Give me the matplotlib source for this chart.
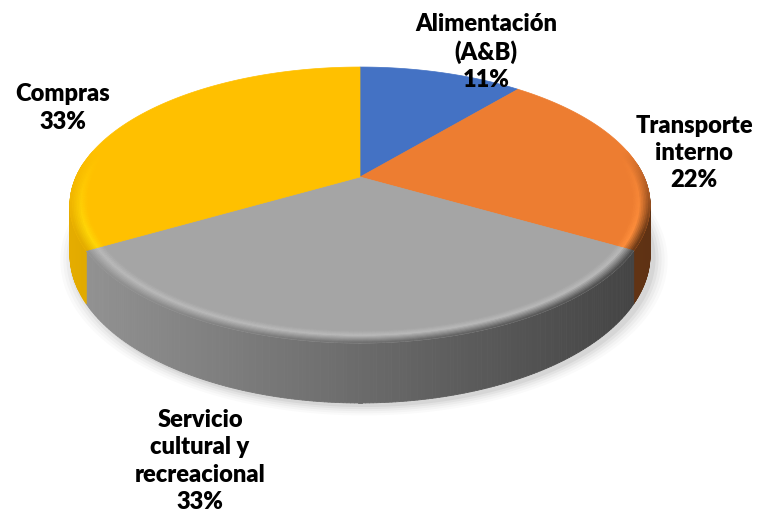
import numpy as np
import matplotlib
matplotlib.use("Agg")
import matplotlib.pyplot as plt
from matplotlib.collections import PolyCollection
from matplotlib.patches import Polygon
from matplotlib.colors import to_rgb

# ---- data ----
categories = ["Alimentación\n(A&B)", "Transporte\ninterno",
              "Servicio\ncultural y\nrecreacional", "Compras"]
values = [1, 2, 3, 3]
colors = ["#4472C4", "#ED7D31", "#A5A5A5", "#FFC000"]

# label anchor positions (pixels)
label_pos = [(486, 52), (694, 153), (200, 461), (63, 108)]

W, H = 757, 519
fig = plt.figure(figsize=(W / 100, H / 100), dpi=100)
ax = fig.add_axes([0, 0, 1, 1])
ax.set_xlim(0, W)
ax.set_ylim(H, 0)
ax.axis("off")

# projection parameters (perspective 3-D pie)
cx, cy = 360, 177
A, B, k, D = 284, 132.3, 0.203, 47.8


def proj(theta, r=1.0, z=0.0):
    u = r * np.sin(theta)
    v = r * np.cos(theta)
    w = 1 + k * v
    return cx + A * u / w, cy - B * v / w + D * z / (1 + k * np.cos(theta))


vals = np.array(values, dtype=float)
fr = vals / vals.sum()
edges = np.concatenate([[0], np.cumsum(fr)]) * 2 * np.pi

xl, xr = 67, 648


def light(x):
    t = np.clip((x - xl) / (xr - xl), 0, 1)
    return 0.90 - 0.50 * t


# ---- soft shadow ----
th = np.linspace(0, 2 * np.pi, 400)
for s, a in [(1.045, 0.02), (1.035, 0.025), (1.025, 0.03), (1.015, 0.04), (1.005, 0.05)]:
    xs, ys = proj(th, r=s, z=1.0)
    ax.add_patch(Polygon(np.column_stack([xs + 4, ys + 3]), closed=True,
                         facecolor="black", alpha=a, edgecolor="none", zorder=1))

# ---- side walls ----
polys, cols = [], []
for i in range(len(vals)):
    base = np.array(to_rgb(colors[i]))
    t = np.linspace(edges[i], edges[i + 1], 200)
    for a0, a1 in zip(t[:-1], t[1:]):
        if np.cos(a0) > 0.1 and np.cos(a1) > 0.1:
            continue
        x0, y0 = proj(a0)
        x1, y1 = proj(a1)
        x0b, y0b = proj(a0, z=1)
        x1b, y1b = proj(a1, z=1)
        polys.append([(x0, y0), (x1, y1), (x1b, y1b), (x0b, y0b)])
        f = light((x0 + x1) / 2)
        cols.append(np.clip(base * f, 0, 1))
pc = PolyCollection(polys, facecolors=cols, edgecolors=cols, linewidths=0.6, zorder=2)
ax.add_collection(pc)

# ---- top faces ----
for i in range(len(vals)):
    t = np.linspace(edges[i], edges[i + 1], 200)
    xs, ys = proj(t)
    pts = np.column_stack([np.concatenate([[cx], xs]), np.concatenate([[cy], ys])])
    ax.add_patch(Polygon(pts, closed=True, facecolor=colors[i], edgecolor=colors[i],
                         linewidth=0.5, zorder=3))

# ---- bevel along rim ----
polys, cols = [], []
rs = np.linspace(0.94, 1.0, 12)
for i in range(len(vals)):
    base = np.array(to_rgb(colors[i]))
    t = np.linspace(edges[i], edges[i + 1], 160)
    for a0, a1 in zip(t[:-1], t[1:]):
        am = (a0 + a1) / 2
        wgt = np.clip((0.2 - np.cos(am)) / 0.6, 0, 1)
        if wgt <= 0:
            continue
        for r0, r1 in zip(rs[:-1], rs[1:]):
            rm = (r0 + r1) / 2
            q = (rm - 0.94) / 0.06
            x0, y0 = proj(a0, r0)
            x1, y1 = proj(a1, r0)
            x2, y2 = proj(a1, r1)
            x3, y3 = proj(a0, r1)
            side = base * light((x0 + x1) / 2)
            hi = np.clip(base * 1.08 + 0.03, 0, 1)
            if q < 0.4:
                c = base + (hi - base) * (q / 0.4)
            else:
                c = hi + (side - hi) * ((q - 0.4) / 0.6)
            c = base + (c - base) * wgt
            polys.append([(x0, y0), (x1, y1), (x2, y2), (x3, y3)])
            cols.append(np.clip(c, 0, 1))
pc = PolyCollection(polys, facecolors=cols, edgecolors=cols, linewidths=0.4, zorder=4)
ax.add_collection(pc)

# ---- labels ----
pct = np.round(fr * 100).astype(int)
for i in range(len(vals)):
    ax.text(label_pos[i][0], label_pos[i][1], f"{categories[i]}\n{pct[i]}%",
            ha="center", va="center", fontsize=17, fontweight="heavy",
            family=["Lato", "DejaVu Sans"], color="black", linespacing=1.3, zorder=6)

fig.savefig("out.png", dpi=100)
